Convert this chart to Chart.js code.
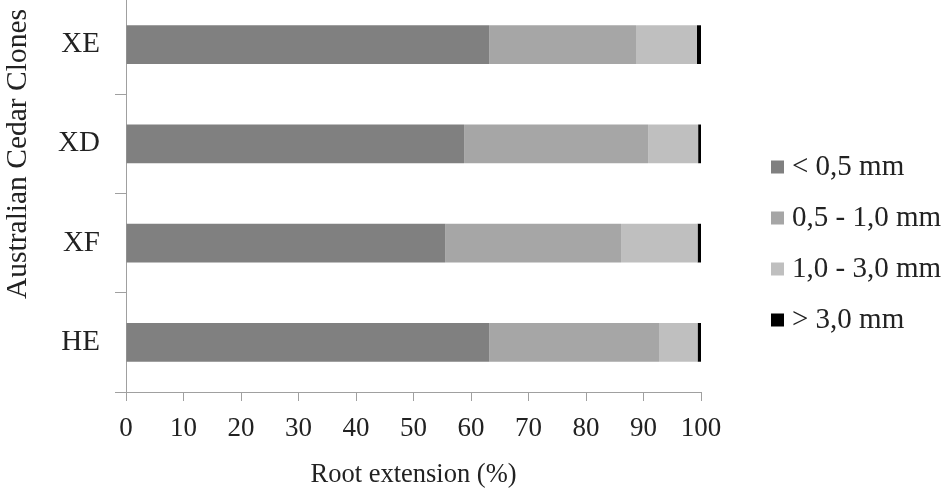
<!DOCTYPE html>
<html>
<head>
<meta charset="utf-8">
<script src="https://cdn.jsdelivr.net/npm/chart.js@4.4.1/dist/chart.umd.min.js"></script>
<style>
  html, body { margin: 0; padding: 0; background: #ffffff; overflow: hidden; }
  #wrap { position: absolute; left: 0; top: -5px; width: 952px; height: 501px; }
</style>
</head>
<body>
<div id="wrap"><canvas id="c" width="952" height="501"></canvas></div>
<script>
const categories = ["XE", "XD", "XF", "HE"];
const seriesNames = ["< 0,5 mm", "0,5 - 1,0 mm", "1,0 - 3,0 mm", "> 3,0 mm"];
const lt05 = [63.2, 58.8, 55.5, 63.2];
const s05to10 = [25.5, 32.0, 30.6, 29.5];
const s10to30 = [10.6, 8.7, 13.3, 6.7];
const gt30 = [0.7, 0.5, 0.6, 0.6];
const xTicks = [0, 10, 20, 30, 40, 50, 60, 70, 80, 90, 100];
const xTitle = "Root extension (%)";
const yTitle = "Australian Cedar Clones";
const colors = ["#808080", "#a6a6a6", "#bfbfbf", "#000000"];

const serif = "'Liberation Serif', 'Times New Roman', serif";
const axisColor = "#a0a0a0";

const customLegend = {
  id: 'customLegend',
  afterDraw(chart) {
    const ctx = chart.ctx;
    ctx.save();
    ctx.font = "29px " + serif;
    ctx.textBaseline = 'middle';
    ctx.textAlign = 'left';
    chart.data.datasets.forEach((ds, i) => {
      const cy = 172 + i * 51;
      ctx.fillStyle = ds.backgroundColor;
      ctx.fillRect(771, cy - 6.5, 13, 13);
      ctx.fillStyle = '#222222';
      ctx.fillText(ds.label, 792, cy);
    });
    ctx.restore();
  }
};

const yTitlePlugin = {
  id: 'yTitlePlugin',
  afterDraw(chart) {
    const ctx = chart.ctx;
    ctx.save();
    ctx.translate(18, 159);
    ctx.rotate(-Math.PI / 2);
    ctx.font = "29.5px " + serif;
    ctx.fillStyle = '#222222';
    ctx.textAlign = 'center';
    ctx.textBaseline = 'middle';
    ctx.fillText(yTitle, 0, 0);
    ctx.restore();
  }
};

const values = [lt05, s05to10, s10to30, gt30];

new Chart(document.getElementById('c'), {
  type: 'bar',
  data: {
    labels: categories,
    datasets: seriesNames.map((name, i) => ({
      label: name,
      data: values[i],
      backgroundColor: colors[i],
      borderWidth: 0,
      barPercentage: 0.39,
      categoryPercentage: 1.0
    }))
  },
  options: {
    indexAxis: 'y',
    responsive: false,
    animation: false,
    devicePixelRatio: 1,
    layout: { padding: { left: 0, right: 251, top: 0, bottom: 0 } },
    plugins: {
      legend: { display: false },
      tooltip: { enabled: false },
      title: { display: false }
    },
    scales: {
      x: {
        stacked: true,
        min: 0,
        max: 100,
        afterBuildTicks(scale) { scale.ticks = xTicks.map(v => ({ value: v })); },
        afterFit(scale) {
          scale.height = 104;
          scale.paddingLeft = 0; scale.paddingRight = 0;
        },
        ticks: {
          stepSize: 10,
          padding: 12,
          color: '#222222',
          font: { family: serif, size: 27 },
          maxRotation: 0,
          autoSkip: false
        },
        grid: {
          display: true,
          drawOnChartArea: false,
          drawTicks: true,
          tickLength: 9,
          color: axisColor,
          lineWidth: 1
        },
        border: { display: true, color: axisColor, width: 1 },
        title: {
          display: true,
          text: xTitle,
          color: '#222222',
          font: { family: serif, size: 26.5 },
          padding: { top: 0, bottom: 5 }
        }
      },
      y: {
        stacked: true,
        afterFit(scale) {
          scale.width = 126;
          scale.paddingTop = 0; scale.paddingBottom = 0;
        },
        ticks: {
          padding: 15,
          color: '#222222',
          font: { family: serif, size: 29 }
        },
        grid: {
          display: true,
          offset: true,
          drawOnChartArea: false,
          drawTicks: true,
          tickLength: 11,
          color: axisColor,
          lineWidth: 1
        },
        border: { display: true, color: axisColor, width: 1 }
      }
    }
  },
  plugins: [customLegend, yTitlePlugin]
});
</script>
</body>
</html>
